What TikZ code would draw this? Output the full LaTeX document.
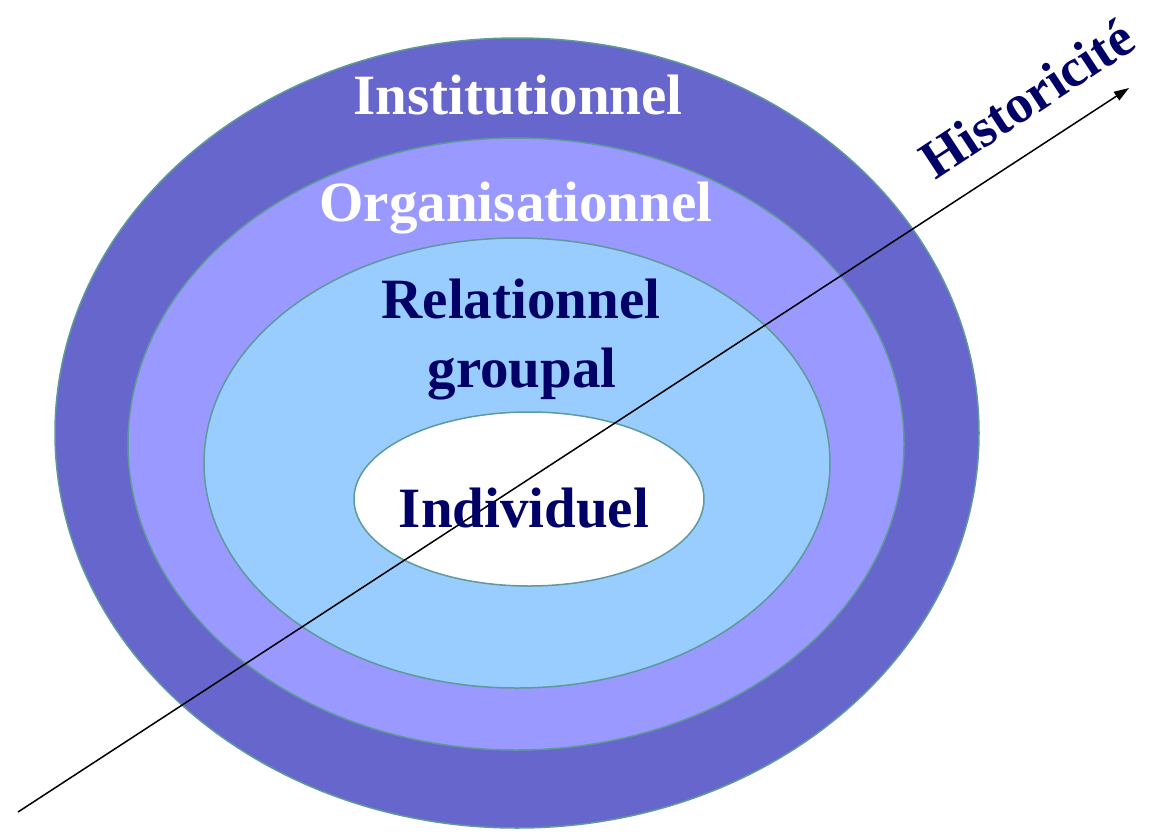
\documentclass[tikz,border=0pt]{standalone}
\usepackage{fontspec}
\setmainfont{Liberation Serif}
\usetikzlibrary{arrows.meta}
\definecolor{instit}{HTML}{6666CC}
\definecolor{organ}{HTML}{9999FF}
\definecolor{relat}{HTML}{99CCFF}
\definecolor{rimcol}{HTML}{5F9A9A}
\definecolor{navy}{HTML}{000066}
\tikzset{
	rim/.style={draw=rimcol, line width=1.5pt},
	lvl/.style={font=\fontsize{57}{60}\selectfont\bfseries, anchor=base, inner sep=0pt},
}
\begin{document}
\begin{tikzpicture}[x=1pt, y=-1pt]
		\useasboundingbox (0,0) rectangle (1152,839);
		\fill[white] (0,0) rectangle (1152,839);

		% levels, from outside in
		\draw[rim, fill=instit] (517,433) ellipse [x radius=462, y radius=395];
		\draw[rim, fill=organ] (516,444) ellipse [x radius=388, y radius=306];
		\draw[rim, fill=relat] (517,463) ellipse [x radius=313, y radius=225];
		\draw[rim, fill=white] (529,499) ellipse [x radius=175, y radius=87];

		\coordinate (past) at (18,812);
		\coordinate (now) at (1129,88);
		\draw[line width=1.5pt, -{Triangle[length=15pt, width=10pt]}] (past) -- (now);

		\node[lvl, text=white] (inst) at (518,114) {Institutionnel};
		\node[lvl, text=white] (org) at (516,221) {Organisationnel};
		\node[lvl, text=navy] (rel) at (521,318) {Relationnel};
		\node[lvl, text=navy] (grp) at (522,387) {groupal};
		\node[lvl, text=navy] (ind) at (524,527) {Individuel};

		\node[lvl, text=navy, font=\fontsize{54}{58}\selectfont\bfseries, rotate=33.3] (hist) at (1037,114) {Historicité};
	\end{tikzpicture}
\end{document}
